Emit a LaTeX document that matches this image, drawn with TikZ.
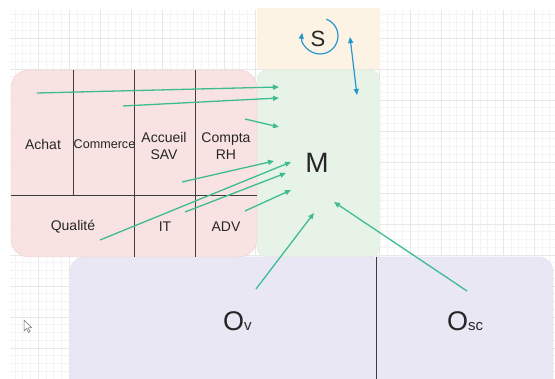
\documentclass[tikz,border=0pt]{standalone}
\usepackage{fontspec}
\setmainfont{Liberation Sans}
\usetikzlibrary{arrows.meta}
\definecolor{pinkfill}{RGB}{249,226,226}
\definecolor{pinkline}{RGB}{240,205,205}
\definecolor{greenfill}{RGB}{232,243,232}
\definecolor{greenline}{RGB}{218,234,218}
\definecolor{yellowfill}{RGB}{253,243,228}
\definecolor{purplefill}{RGB}{234,231,245}
\definecolor{purpleline}{RGB}{222,218,238}
\definecolor{arrowgreen}{RGB}{62,188,145}
\definecolor{arrowblue}{RGB}{38,150,205}
\definecolor{gridminor}{RGB}{244,244,244}
\definecolor{gridmajor}{RGB}{232,232,232}
\definecolor{divider}{RGB}{60,60,60}
\tikzset{
  panel/.style={anchor=north west, inner sep=0pt, outer sep=0pt},
  lbl/.style={font=\fontsize{14}{17}\selectfont, text=black!85, align=center, inner sep=1pt},
  sep/.style={draw=divider, line width=0.8pt},
  flow/.style={draw=arrowgreen, line width=1.3pt, -{Triangle[length=6pt,width=5pt]}},
  link/.style={draw=arrowblue, line width=1.2pt, {Triangle[length=6pt,width=5pt]}-{Triangle[length=6pt,width=5pt]}},
  loop/.style={draw=arrowblue, line width=1.2pt, -{Triangle[length=6pt,width=5pt]}},
}
\begin{document}
\begin{tikzpicture}[x=1pt,y=-1pt]
\useasboundingbox (0,0) rectangle (555,379);
\clip (0,0) rectangle (555,379);
\fill[white] (0,0) rectangle (555,379);
% background grid
\foreach \xx in {14.75,22.5,...,555} \draw[gridminor,line width=0.5pt] (\xx,10) -- (\xx,379);
\foreach \yy in {14.75,22.5,...,379} \draw[gridminor,line width=0.5pt] (10,\yy) -- (555,\yy);
\foreach \xx in {38,69,...,555} \draw[gridmajor,line width=0.6pt] (\xx,10) -- (\xx,379);
\foreach \yy in {38,69,...,379} \draw[gridmajor,line width=0.6pt] (10,\yy) -- (555,\yy);

% panels
\node[panel, fill=yellowfill, minimum width=123pt, minimum height=61pt] (sbox) at (257,8) {};
\node[panel, draw=greenline, fill=greenfill, rounded corners=10pt, minimum width=123pt, minimum height=187pt] (mbox) at (257,70) {};
\node[panel, draw=pinkline, fill=pinkfill, rounded corners=18pt, minimum width=246pt, minimum height=187pt] (pbox) at (11,70) {};
\node[panel, draw=purpleline, fill=purplefill, rounded corners=15pt, minimum width=483pt, minimum height=150pt] (obox) at (70,257) {};

% dividers
\draw[sep] (73,70) -- (73,195);
\draw[sep] (134,70) -- (134,257);
\draw[sep] (195,70) -- (195,257);
\draw[sep] (11,195) -- (257,195);
\draw[sep] (376,257) -- (376,379);

% labels
\node[lbl] (achat) at (43,144) {Achat};
\node[lbl, font=\fontsize{12.6}{15}\selectfont] (commerce) at (104.5,144) {Commerce};
\node[lbl] (accueil) at (164,146) {Accueil\\SAV};
\node[lbl] (compta) at (226,146) {Compta\\RH};
\node[lbl] (qualite) at (73,227) {Qualité};
\node[lbl] (it) at (165,227) {IT};
\node[lbl] (adv) at (226,227) {ADV};
\node[lbl, font=\fontsize{28}{32}\selectfont] (m) at (317,163) {M};
\node[lbl, font=\fontsize{22}{26}\selectfont] (s) at (318,39) {S};
\node[lbl, anchor=base west] (ov) at (222,331) {{\fontsize{27}{30}\selectfont O}{\fontsize{15}{18}\selectfont v}};
\node[lbl, anchor=base west] (osc) at (446,331) {{\fontsize{27}{30}\selectfont O}{\fontsize{15}{18}\selectfont sc}};

% connector end points
\coordinate (a1s) at (37,93);   \coordinate (a1e) at (279,87);
\coordinate (a2s) at (123,106); \coordinate (a2e) at (279,98);
\coordinate (a3s) at (245,119); \coordinate (a3e) at (279,127);
\coordinate (a4s) at (182,182); \coordinate (a4e) at (274,161);
\coordinate (a5s) at (100,240); \coordinate (a5e) at (291,162);
\coordinate (a6s) at (185,212); \coordinate (a6e) at (286,173);
\coordinate (a7s) at (245,211); \coordinate (a7e) at (291,190);
\coordinate (a8s) at (256,289); \coordinate (a8e) at (314,213);
\coordinate (a9s) at (467,291); \coordinate (a9e) at (334,202);
\coordinate (bs) at (350,37);   \coordinate (be) at (357,95);
\coordinate (sc) at (320,36);

\draw[flow] (a1s) -- (a1e);
\draw[flow] (a2s) -- (a2e);
\draw[flow] (a3s) -- (a3e);
\draw[flow] (a4s) -- (a4e);
\draw[flow] (a5s) -- (a5e);
\draw[flow] (a6s) -- (a6e);
\draw[flow] (a7s) -- (a7e);
\draw[flow] (a8s) -- (a8e);
\draw[flow] (a9s) -- (a9e);
\draw[link] (bs) -- (be);
\draw[loop] (sc) ++(-69:18) arc[start angle=-69, end angle=190, radius=18];

% mouse pointer
\draw[black!55, fill=white, line width=0.5pt] (24,320) -- (24,331) -- (26.5,328.5) -- (28.5,332.5) -- (30,331.7) -- (28,328) -- (31.5,327.5) -- cycle;
\end{tikzpicture}
\end{document}
